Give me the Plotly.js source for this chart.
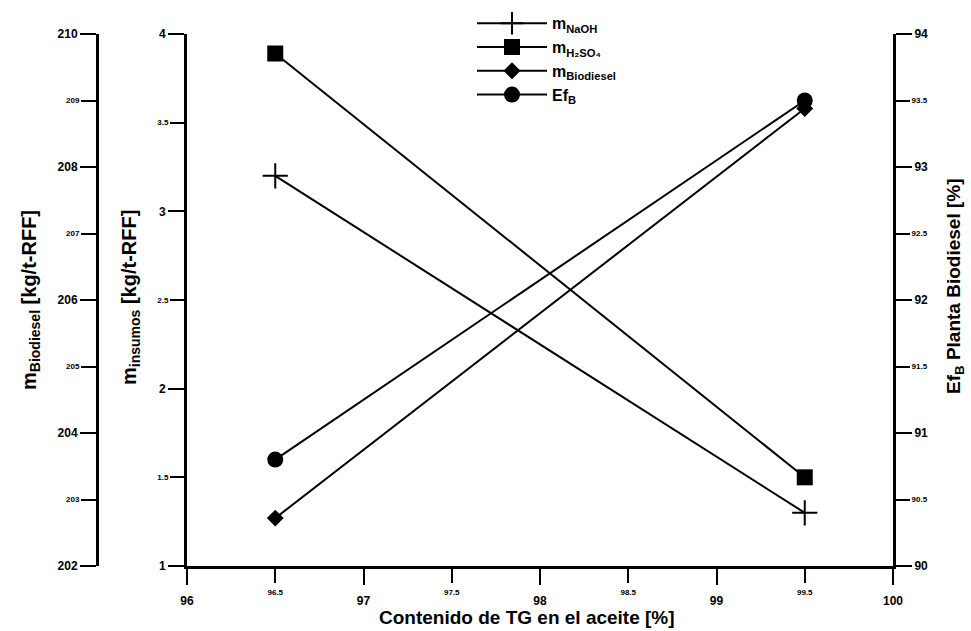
<!DOCTYPE html>
<html><head><meta charset="utf-8">
<script src="https://cdn.plot.ly/plotly-3.0.1.min.js"></script>
<style>html,body{margin:0;padding:0;background:#fff}#chart{width:971px;height:631px}</style>
</head><body><div id="chart"></div>
<script>
// ---- data ----
var tgContent = [96.5, 99.5];
var mNaOH = [3.2, 1.3];
var mH2SO4 = [3.89, 1.5];
var mBiodiesel = [202.72, 208.88];
var efB = [90.8, 93.5];

// tick labels (major / minor)
var xMajorVals = [96, 97, 98, 99, 100];
var xMajorText = ['96', '97', '98', '99', '100'];
var xMinorVals = [96.5, 97.5, 98.5, 99.5];
var xMinorText = ['96.5', '97.5', '98.5', '99.5'];
var insMajorVals = [1, 2, 3, 4];
var insMajorText = ['1', '2', '3', '4'];
var insMinorVals = [1.5, 2.5, 3.5];
var insMinorText = ['1.5', '2.5', '3.5'];
var bioMajorVals = [202, 204, 206, 208, 210];
var bioMajorText = ['202', '204', '206', '208', '210'];
var bioMinorVals = [203, 205, 207, 209];
var bioMinorText = ['203', '205', '207', '209'];
var efMajorVals = [90, 91, 92, 93, 94];
var efMajorText = ['90', '91', '92', '93', '94'];
var efMinorVals = [90.5, 91.5, 92.5, 93.5];
var efMinorText = ['90.5', '91.5', '92.5', '93.5'];

var F = 'Liberation Sans, Arial, sans-serif';
var lineStyle = {color: '#000', width: 2};

var traces = [
  {x: tgContent, y: mNaOH, name: 'm<sub>NaOH</sub>', type: 'scatter', mode: 'lines+markers',
   line: lineStyle, marker: {symbol: 'cross-thin-open', size: 18, color: '#000', line: {color: '#000', width: 2}}, xaxis: 'x', yaxis: 'y'},
  {x: tgContent, y: mH2SO4, name: 'm<sub>H₂SO₄</sub>', type: 'scatter', mode: 'lines+markers',
   line: lineStyle, marker: {symbol: 'square', size: 16, color: '#000'}, xaxis: 'x', yaxis: 'y'},
  {x: tgContent, y: mBiodiesel, name: 'm<sub>Biodiesel</sub>', type: 'scatter', mode: 'lines+markers',
   line: lineStyle, marker: {symbol: 'diamond', size: 13, color: '#000'}, xaxis: 'x', yaxis: 'y2'},
  {x: tgContent, y: efB, name: 'Ef<sub>B</sub>', type: 'scatter', mode: 'lines+markers',
   line: lineStyle, marker: {symbol: 'circle', size: 16, color: '#000'}, xaxis: 'x', yaxis: 'y3'},
  // invisible carriers so the minor-label axes get drawn
  {x: tgContent, y: mNaOH, xaxis: 'x2', yaxis: 'y4', type: 'scatter', mode: 'markers',
   marker: {opacity: 0}, showlegend: false, hoverinfo: 'skip'},
  {x: tgContent, y: mBiodiesel, xaxis: 'x', yaxis: 'y5', type: 'scatter', mode: 'markers',
   marker: {opacity: 0}, showlegend: false, hoverinfo: 'skip'},
  {x: tgContent, y: efB, xaxis: 'x', yaxis: 'y6', type: 'scatter', mode: 'markers',
   marker: {opacity: 0}, showlegend: false, hoverinfo: 'skip'}
];

function ax(extra, major) {
  var base = {
    showgrid: false, zeroline: false, showline: major, linecolor: '#000', linewidth: 3,
    ticks: 'outside', ticklen: 16, tickwidth: 2, tickcolor: '#000',
    tickfont: {family: F, size: major ? 12 : 8, color: '#000', weight: 'bold'},
    tickmode: 'array', fixedrange: true, automargin: false
  };
  return Object.assign(base, extra);
}

var XDOM = [187/971, 893/971];
var BIOPOS = 97/971;
var titleFont = {family: F, size: 20, color: '#000', weight: 'bold'};

var layout = {
  width: 971, height: 631,
  margin: {l: 0, r: 0, t: 34, b: 65, autoexpand: false},
  paper_bgcolor: '#fff', plot_bgcolor: '#fff',
  showlegend: true,
  legend: {xref: 'container', yref: 'container', x: 472/971, y: 0.99, xanchor: 'left', yanchor: 'top',
           font: {family: F, size: 16, color: '#000', weight: 'bold'}, bgcolor: 'rgba(0,0,0,0)',
           itemwidth: 70, tracegroupgap: 0},
  xaxis: ax({domain: XDOM, range: [96, 100], tickvals: xMajorVals, ticktext: xMajorText,
    anchor: 'y', ticklabelstandoff: 6}, true),
  xaxis2: ax({overlaying: 'x', anchor: 'y', side: 'bottom', range: [96, 100],
    tickvals: xMinorVals, ticktext: xMinorText, ticklabelstandoff: 2}, false),
  yaxis: ax({range: [1, 4], tickvals: insMajorVals, ticktext: insMajorText, anchor: 'x'}, true),
  yaxis4: ax({range: [1, 4], overlaying: 'y', side: 'left', anchor: 'x',
    tickvals: insMinorVals, ticktext: insMinorText}, false),
  yaxis2: ax({range: [202, 210], overlaying: 'y', side: 'left', anchor: 'free', position: BIOPOS,
    tickvals: bioMajorVals, ticktext: bioMajorText}, true),
  yaxis5: ax({range: [202, 210], overlaying: 'y', side: 'left', anchor: 'free', position: BIOPOS,
    tickvals: bioMinorVals, ticktext: bioMinorText}, false),
  yaxis3: ax({range: [90, 94], overlaying: 'y', side: 'right', anchor: 'x',
    tickvals: efMajorVals, ticktext: efMajorText}, true),
  yaxis6: ax({range: [90, 94], overlaying: 'y', side: 'right', anchor: 'x',
    tickvals: efMinorVals, ticktext: efMinorText}, false),
  annotations: [
    {text: 'm<sub>Biodiesel</sub> [kg/t-RFF]', xref: 'paper', yref: 'paper', x: 30/971, y: (566-300)/532,
     xanchor: 'center', yanchor: 'middle', textangle: -90, showarrow: false, font: titleFont},
    {text: 'm<sub>insumos</sub> [kg/t-RFF]', xref: 'paper', yref: 'paper', x: 130/971, y: (566-298)/532,
     xanchor: 'center', yanchor: 'middle', textangle: -90, showarrow: false, font: titleFont},
    {text: 'Ef<sub>B</sub> Planta Biodiesel [%]', xref: 'paper', yref: 'paper', x: 955/971, y: (566-287)/532,
     xanchor: 'center', yanchor: 'middle', textangle: -90, showarrow: false,
     font: {family: F, size: 19, color: '#000', weight: 'bold'}},
    {text: 'Contenido de TG en el aceite [%]', xref: 'paper', yref: 'paper', x: 527/971, y: -51/532,
     xanchor: 'center', yanchor: 'middle', showarrow: false,
     font: {family: F, size: 19, color: '#000', weight: 'bold'}}
  ]
};

Plotly.newPlot('chart', traces, layout, {displayModeBar: false, staticPlot: true});
</script>
</body></html>
